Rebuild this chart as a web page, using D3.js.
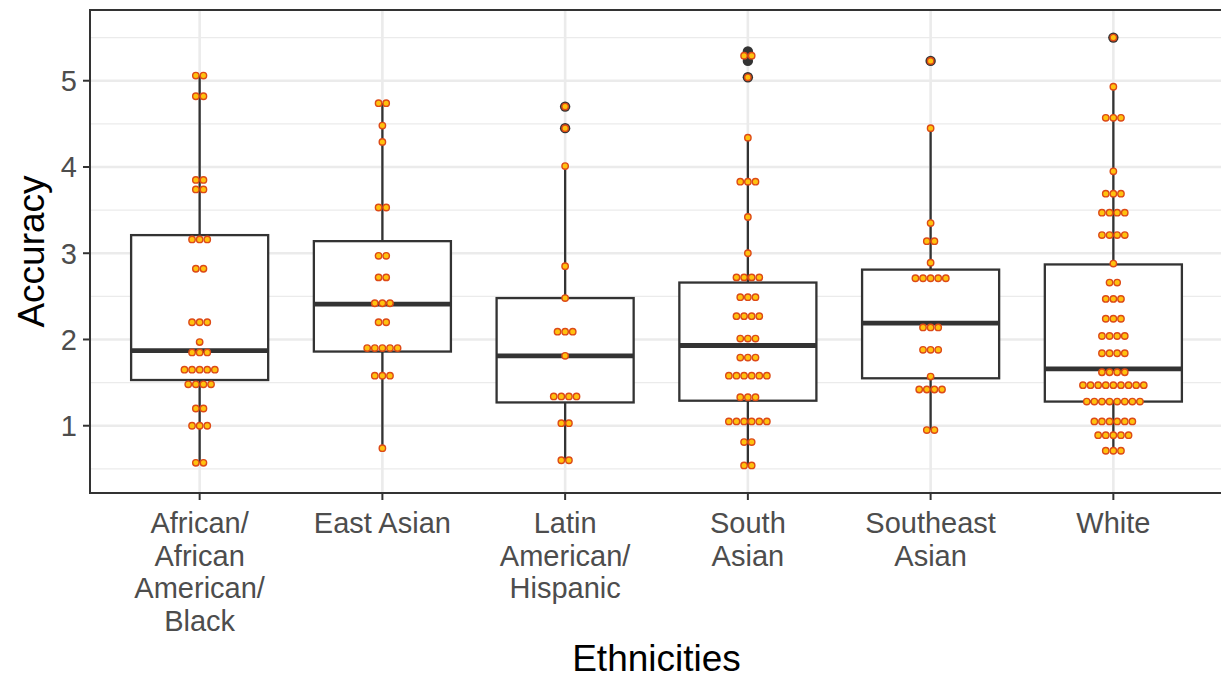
<!DOCTYPE html>
<html><head><meta charset="utf-8">
<script src="https://cdn.jsdelivr.net/npm/d3@7"></script>
<style>body{margin:0;background:#fff} svg{display:block}</style>
</head><body>
<svg id="chart" width="1221" height="679"></svg>
<script>
// ---------------- data ----------------
const categories = ["African/African American/Black","East Asian","Latin American/Hispanic","South Asian","Southeast Asian","White"];
const categoryLabelLines = [["African/","African","American/","Black"],["East Asian"],["Latin","American/","Hispanic"],["South","Asian"],["Southeast","Asian"],["White"]];

// box statistics per category
const q1          = [1.53, 1.86, 1.27, 1.29, 1.55, 1.28];
const medians     = [1.87, 2.41, 1.81, 1.93, 2.19, 1.66];
const q3          = [3.21, 3.14, 2.48, 2.66, 2.81, 2.87];
const whiskerLow  = [0.57, 0.74, 0.60, 0.54, 0.95, 0.71];
const whiskerHigh = [5.06, 4.74, 4.01, 4.34, 4.45, 4.93];
const outliers    = [[], [], [4.70, 4.45], [5.34, 5.23, 5.04], [5.23], [5.50]];

// dot-plot bins: [value, number of dots]
const dotsAfrican = [[5.06,2],[4.82,2],[3.85,2],[3.74,2],[3.16,3],[2.82,2],[2.20,3],[1.97,1],[1.85,3],[1.65,5],[1.48,4],[1.20,2],[1.00,3],[0.57,2]];
const dotsEastAsian = [[4.74,2],[4.48,1],[4.29,1],[3.53,2],[2.97,2],[2.72,2],[2.42,3],[2.20,2],[1.90,5],[1.58,3],[0.74,1]];
const dotsLatin = [[4.70,1],[4.45,1],[4.01,1],[2.85,1],[2.48,1],[2.09,3],[1.81,1],[1.34,4],[1.03,2],[0.60,2]];
const dotsSouthAsian = [[5.29,2],[5.04,1],[4.34,1],[3.83,3],[3.42,1],[3.00,1],[2.72,4],[2.49,3],[2.27,4],[2.01,3],[1.79,3],[1.58,6],[1.33,3],[1.05,6],[0.81,2],[0.54,2]];
const dotsSoutheastAsian = [[5.23,1],[4.45,1],[3.35,1],[3.14,2],[2.89,1],[2.71,5],[2.14,3],[1.88,3],[1.57,1],[1.42,4],[0.95,2]];
const dotsWhite = [[5.50,1],[4.93,1],[4.57,3],[3.95,1],[3.69,3],[3.47,4],[3.21,4],[2.88,1],[2.66,2],[2.47,3],[2.24,3],[2.04,4],[1.84,4],[1.62,4],[1.47,9],[1.28,8],[1.05,6],[0.89,5],[0.71,3]];
const dotGroups = [dotsAfrican, dotsEastAsian, dotsLatin, dotsSouthAsian, dotsSoutheastAsian, dotsWhite];

const yTicks = [1,2,3,4,5];
const yMinorTicks = [0.5,1.5,2.5,3.5,4.5,5.5];
const xTitle = "Ethnicities";
const yTitle = "Accuracy";

// ---------------- layout ----------------
const panel = {left: 90, right: 1223, top: 10, bottom: 493};
const svg = d3.select("#chart");
const font = "'Liberation Sans', Arial, Helvetica, sans-serif";

const x = d3.scalePoint().domain(categories).range([panel.left, panel.right]).padding(0.6);
const y = d3.scaleLinear().domain([0.22, 5.82]).range([panel.bottom, panel.top]);
const step = x.step();
const boxW = step * 0.75;
const dotD = 7.6;

svg.append("defs").append("clipPath").attr("id","pclip")
  .append("rect").attr("x",panel.left).attr("y",panel.top)
  .attr("width",panel.right-panel.left).attr("height",panel.bottom-panel.top);

const g = svg.append("g").attr("clip-path","url(#pclip)");
g.append("rect").attr("x",panel.left).attr("y",panel.top)
  .attr("width",panel.right-panel.left).attr("height",panel.bottom-panel.top).attr("fill","#fff");
// grid
g.selectAll(".minor").data(yMinorTicks).join("line")
  .attr("x1",panel.left).attr("x2",panel.right)
  .attr("y1",d=>y(d)).attr("y2",d=>y(d))
  .attr("stroke","#EBEBEB").attr("stroke-width",1.3);
g.selectAll(".major").data(yTicks).join("line")
  .attr("x1",panel.left).attr("x2",panel.right)
  .attr("y1",d=>y(d)).attr("y2",d=>y(d))
  .attr("stroke","#EBEBEB").attr("stroke-width",2.6);
g.selectAll(".vmajor").data(categories).join("line")
  .attr("x1",d=>x(d)).attr("x2",d=>x(d))
  .attr("y1",panel.top).attr("y2",panel.bottom)
  .attr("stroke","#EBEBEB").attr("stroke-width",2.6);

const dark = "#333333";
categories.forEach((c,i)=>{
  const cx = x(c);
  g.append("line").attr("x1",cx).attr("x2",cx).attr("y1",y(q3[i])).attr("y2",y(whiskerHigh[i]))
    .attr("stroke",dark).attr("stroke-width",2.3);
  g.append("line").attr("x1",cx).attr("x2",cx).attr("y1",y(q1[i])).attr("y2",y(whiskerLow[i]))
    .attr("stroke",dark).attr("stroke-width",2.3);
  g.append("rect").attr("x",cx-boxW/2).attr("y",y(q3[i]))
    .attr("width",boxW).attr("height",y(q1[i])-y(q3[i]))
    .attr("fill","#fff").attr("stroke",dark).attr("stroke-width",2.3);
  g.append("line").attr("x1",cx-boxW/2).attr("x2",cx+boxW/2)
    .attr("y1",y(medians[i])).attr("y2",y(medians[i]))
    .attr("stroke",dark).attr("stroke-width",4.8);
  g.selectAll(null).data(outliers[i]).join("circle")
    .attr("cx",cx).attr("cy",d=>y(d)).attr("r",5.2).attr("fill",dark);
});

// dots
categories.forEach((c,i)=>{
  const cx = x(c);
  dotGroups[i].forEach(([v,n])=>{
    for(let j=0;j<n;j++){
      g.append("circle")
        .attr("cx", cx + (j-(n-1)/2)*dotD)
        .attr("cy", y(v))
        .attr("r", dotD/2 - 0.6)
        .attr("fill","#FFC20E")
        .attr("stroke","#DD4A17")
        .attr("stroke-width",1.4);
    }
  });
});

// panel border
svg.append("rect").attr("x",panel.left).attr("y",panel.top)
  .attr("width",panel.right-panel.left).attr("height",panel.bottom-panel.top)
  .attr("fill","none").attr("stroke",dark).attr("stroke-width",2);

// y axis ticks & labels
const tickLen = 7;
svg.selectAll(".yt").data(yTicks).join("line")
  .attr("x1",panel.left-tickLen).attr("x2",panel.left)
  .attr("y1",d=>y(d)).attr("y2",d=>y(d)).attr("stroke",dark).attr("stroke-width",2);
svg.selectAll(".yl").data(yTicks).join("text")
  .attr("x",panel.left-tickLen-6).attr("y",d=>y(d)).attr("dy","0.36em")
  .attr("text-anchor","end").attr("font-family",font).attr("font-size",29)
  .attr("fill","#4D4D4D").text(d=>d);

// x axis ticks & labels
svg.selectAll(".xt").data(categories).join("line")
  .attr("x1",d=>x(d)).attr("x2",d=>x(d))
  .attr("y1",panel.bottom).attr("y2",panel.bottom+tickLen).attr("stroke",dark).attr("stroke-width",2);
categories.forEach((c,i)=>{
  const t = svg.append("text").attr("text-anchor","middle").attr("font-family",font)
    .attr("font-size",29).attr("fill","#4D4D4D");
  categoryLabelLines[i].forEach((ln,k)=>{
    t.append("tspan").attr("x",x(c)).attr("y",533 + k*32.5).text(ln);
  });
});

// titles
svg.append("text").attr("x",(x(categories[0])+x(categories[5]))/2).attr("y",671)
  .attr("text-anchor","middle").attr("font-family",font).attr("font-size",37)
  .attr("fill","#000").text(xTitle);
svg.append("text").attr("transform",`translate(44,${(panel.top+panel.bottom)/2}) rotate(-90)`)
  .attr("text-anchor","middle").attr("font-family",font).attr("font-size",37)
  .attr("fill","#000").text(yTitle);
</script>
</body></html>
